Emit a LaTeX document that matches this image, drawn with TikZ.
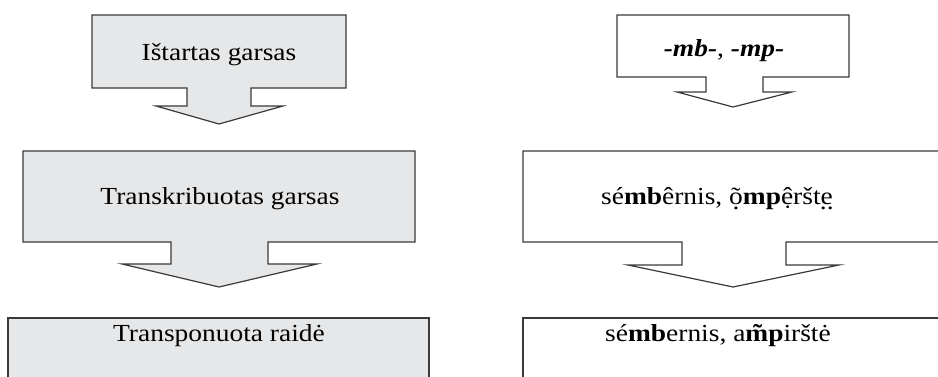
\documentclass[tikz,border=0pt]{standalone}
\usepackage{fontspec}
\setmainfont{Liberation Serif}[FakeStretch=1.12]
\definecolor{boxgray}{HTML}{E6E7E8}
\definecolor{edge}{HTML}{3A3A3A}
\newcommand\mydotb[1]{\ooalign{#1\cr\hidewidth\raisebox{-0.19em}{.}\hidewidth\cr}}
\newcommand\myddotb[1]{\ooalign{#1\cr\hidewidth\raisebox{-0.19em}{.\kern0.01em.}\hidewidth\cr}}
\tikzset{
  callout/.style={draw=edge, line width=1.2pt, line join=miter},
  grayc/.style={callout, fill=boxgray},
  whitec/.style={callout, fill=white},
  lbl/.style={anchor=base, inner sep=0pt, font=\fontsize{24.5}{28}\selectfont}
}
\begin{document}
\begin{tikzpicture}[x=1pt,y=-1pt]
\useasboundingbox (0,0) rectangle (938,377);
\clip (0,0) rectangle (938,377);
% left column
\draw[grayc] (92,15) -- (346,15) -- (346,88) -- (251,88) -- (251,106) -- (283,106) -- (219,124) -- (156,106) -- (187,106) -- (187,88) -- (92,88) -- cycle;
\draw[grayc] (23,151) -- (415,151) -- (415,242) -- (268,242) -- (268,264) -- (317,264) -- (219,287) -- (122,264) -- (171,264) -- (171,242) -- (23,242) -- cycle;
\draw[grayc] (8,390) -- (8,318) -- (429,318) -- (429,390);
% right column
\draw[whitec] (617,15) -- (849,15) -- (849,77) -- (763,77) -- (763,92) -- (792,92) -- (733,107) -- (677,92) -- (706,92) -- (706,77) -- (617,77) -- cycle;
\draw[whitec] (950,151) -- (523,151) -- (523,242) -- (682,242) -- (682,265) -- (628,265) -- (733,287) -- (839,265) -- (786,265) -- (786,242) -- (950,242);
\draw[whitec] (950,318) -- (523,318) -- (523,390);
% labels
\node[lbl] (t1) at (219,61) {Ištartas garsas};
\node[lbl] (t2) at (220,205) {Transkribuotas garsas};
\node[lbl] (t3) at (219,341) {Transponuota raidė};
\node[lbl] (r1) at (724,57) {\textbf{\textit{-mb-}}, \textbf{\textit{-mp-}}};
\node[lbl] (r2) at (717,205) {sé\textbf{mb}êrnis, \mydotb{^^^^00f5}\textbf{mp}^^^^1ec7ršt\myddotb{e}};
\node[lbl] (r3) at (718,341) {sé\textbf{mb}ernis, a\textbf{m^^^^0303p}irštė};
\end{tikzpicture}
\end{document}
